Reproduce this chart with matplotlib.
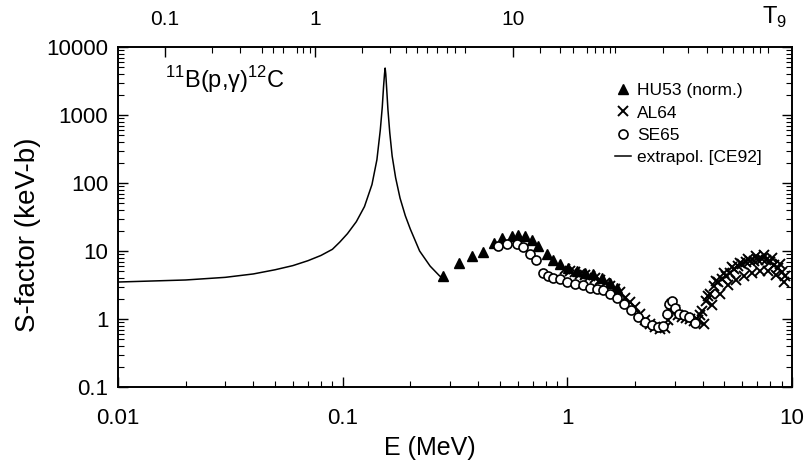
import matplotlib
matplotlib.use("Agg")
import matplotlib.pyplot as plt
from matplotlib.ticker import LogLocator, NullFormatter, FixedLocator

plt.rcParams['font.family'] = ['Liberation Sans', 'DejaVu Sans']
plt.rcParams['mathtext.fontset'] = 'custom'
plt.rcParams['mathtext.rm'] = 'Liberation Sans'

# extrapolated S-factor (CE92)
curve_E = [0.01, 0.02, 0.03, 0.04, 0.05, 0.06, 0.07, 0.08, 0.09, 0.097, 0.105, 0.115,
           0.125, 0.135, 0.142, 0.147, 0.15, 0.152, 0.1535, 0.1545, 0.1555, 0.157,
           0.159, 0.162, 0.166, 0.172, 0.18, 0.19, 0.2, 0.22, 0.245, 0.27, 0.28]
curve_S = [3.5, 3.75, 4.1, 4.6, 5.3, 6.1, 7.2, 8.6, 10.6, 13.5, 18, 27,
           45, 95, 220, 600, 1300, 2600, 4000, 4900, 4000, 2400,
           1200, 550, 250, 120, 60, 33, 21, 10, 6, 4.3, 4.0]

# HU53 (norm.)
hu53_E = [0.2795, 0.3293, 0.3763, 0.4211, 0.4713, 0.5117, 0.5669, 0.6028, 0.6477,
          0.6958, 0.7400, 0.8114, 0.8628, 0.9272, 1.006, 1.103, 1.198, 1.300,
          1.426, 1.547, 1.662]
hu53_S = [4.24, 6.60, 8.38, 9.60, 13.05, 15.47, 16.56, 17.13, 16.56,
          14.45, 11.78, 8.97, 7.31, 6.38, 5.57, 5.03, 4.69, 4.54,
          3.96, 3.34, 2.82]

# AL64 (dense band, middle then upper and lower edge of the band)
al64_E = [0.9757, 1.027, 1.081, 1.138, 1.198, 1.260, 1.327, 1.397, 1.470, 1.547,
          1.628, 1.714, 1.804, 1.899, 1.999, 2.104, 2.215, 2.331, 2.454, 2.583,
          2.719, 2.804, 2.862, 2.921, 3.013, 3.106, 3.236, 3.372, 3.513, 3.660,
          3.813, 3.972, 4.139, 4.312, 4.493, 4.681, 4.875, 5.080, 5.292, 5.513,
          5.744, 5.984, 6.234, 6.495, 6.767, 7.050, 7.345, 7.655, 7.972, 8.308,
          8.654, 9.016, 9.299,
          3.892, 4.224, 4.586, 4.977, 5.402, 5.864, 6.363, 6.907, 7.497, 8.137, 8.834,
          4.054, 4.401, 4.777, 5.184, 5.629, 6.107, 6.630, 7.197, 7.810, 8.480, 9.203]
al64_S = [5.38, 5.03, 4.86, 4.54, 4.39, 4.24, 3.96, 3.70, 3.34, 3.01,
          2.72, 2.46, 2.07, 1.75, 1.48, 1.20, 0.98, 0.855, 0.772, 0.721,
          0.746, 0.98, 1.38, 1.69, 1.38, 1.16, 1.085, 1.049, 1.014, 0.947,
          0.98, 1.33, 1.81, 2.37, 3.01, 3.46, 3.83, 4.24, 4.69, 5.38,
          5.96, 6.38, 6.83, 7.06, 7.06, 7.31, 7.56, 7.31, 6.83, 6.17,
          5.57, 4.86, 4.24,
          1.16, 2.145, 3.58, 4.69, 5.76, 6.60, 7.56, 8.38, 8.66, 7.82, 6.38,
          0.855, 1.634, 2.37, 3.12, 3.70, 4.24, 4.69, 5.03, 5.03, 4.39, 3.46]

# SE65
se65_E = [0.4911, 0.5385, 0.5966, 0.6345, 0.6819, 0.7250, 0.7788, 0.8198, 0.8628,
          0.9272, 0.9959, 1.081, 1.173, 1.260, 1.354, 1.440, 1.547, 1.662, 1.786,
          1.919, 2.062, 2.215, 2.380, 2.530, 2.665, 2.776, 2.833, 2.921, 3.013,
          3.138, 3.303, 3.477, 3.698]
se65_S = [11.78, 12.60, 12.60, 11.38, 8.97, 7.31, 4.69, 4.24, 3.96,
          3.83, 3.46, 3.23, 3.12, 2.82, 2.72, 2.63, 2.37, 2.07, 1.69,
          1.38, 1.085, 0.915, 0.827, 0.772, 0.799, 1.20, 1.69, 1.81, 1.43,
          1.20, 1.16, 1.085, 0.885]

# top T9 scale: labels and the E where they sit
t9_labels = ['0.1', '1', '10']
t9_major_E = [0.01618, 0.0753, 0.5727]
t9_minor_E = [0.0262, 0.03491, 0.04373, 0.04895, 0.05424, 0.06261, 0.06659, 0.07154,
              0.1219, 0.1624, 0.1913, 0.2141, 0.2372, 0.2628, 0.2912, 0.3161, 0.3503,
              0.7552, 0.9272, 1.059, 1.222, 1.327, 1.440, 1.547, 1.628,
              2.665, 3.441, 4.181, 4.875, 5.458, 6.047, 6.699, 7.197, 7.810]

fig = plt.figure(figsize=(8.09, 4.65), dpi=100)
ax = fig.add_axes([0.1459, 0.1677, 0.8331, 0.7312])

ax.plot(curve_E, curve_S, color='black', lw=1.1, label='extrapol. [CE92]')
ax.plot(hu53_E, hu53_S, ls='none', marker='^', ms=7, color='black', label='HU53 (norm.)')
ax.plot(al64_E, al64_S, ls='none', marker='x', ms=7.5, mew=1.4, color='black', label='AL64')
ax.plot(se65_E, se65_S, ls='none', marker='o', ms=6.5, mfc='white', mec='black',
        mew=1.2, label='SE65')

ax.set_xscale('log')
ax.set_yscale('log')
ax.set_xlim(0.01, 10)
ax.set_ylim(0.1, 10000)
ax.set_xticks([0.01, 0.1, 1, 10])
ax.set_xticklabels(['0.01', '0.1', '1', '10'])
ax.set_yticks([0.1, 1, 10, 100, 1000, 10000])
ax.set_yticklabels(['0.1', '1', '10', '100', '1000', '10000'])
ax.xaxis.set_minor_locator(LogLocator(base=10, subs=range(2, 10)))
ax.yaxis.set_minor_locator(LogLocator(base=10, subs=range(2, 10)))
ax.xaxis.set_minor_formatter(NullFormatter())
ax.yaxis.set_minor_formatter(NullFormatter())
ax.tick_params(which='both', direction='in', labelsize=16, right=True, top=False)
ax.tick_params(which='major', length=7, width=1)
ax.tick_params(which='minor', length=4, width=0.8)
ax.tick_params(axis='x', pad=15)
ax.tick_params(axis='y', pad=7)

ax.set_xlabel('E (MeV)', fontsize=18)
ax.set_ylabel('S-factor (keV-b)', fontsize=20)
ax.xaxis.set_label_coords(0.463, -0.145)
ax.yaxis.set_label_coords(-0.115, 0.447)

ax2 = ax.twiny()
ax2.set_xscale('log')
ax2.set_xlim(ax.get_xlim())
ax2.xaxis.set_major_locator(FixedLocator(t9_major_E))
ax2.set_xticklabels(t9_labels)
ax2.xaxis.set_minor_locator(FixedLocator(t9_minor_E))
ax2.xaxis.set_minor_formatter(NullFormatter())
ax2.tick_params(which='both', direction='in', labelsize=15, pad=13)
ax2.tick_params(which='major', length=7, width=1)
ax2.tick_params(which='minor', length=4, width=0.8)
ax2.text(0.993, 1.05, r'T$_9$', transform=ax.transAxes, fontsize=17,
         ha='right', va='bottom')

for a in (ax, ax2):
    for s in a.spines.values():
        s.set_linewidth(1.2)

ax.text(0.07, 0.95, '$^{11}$B(p,γ)$^{12}$C', transform=ax.transAxes,
        fontsize=17, ha='left', va='top')

h, l = ax.get_legend_handles_labels()
order = [1, 2, 3, 0]
ax.legend([h[i] for i in order], [l[i] for i in order], loc='upper left',
          bbox_to_anchor=(0.72, 0.93), frameon=False, fontsize=12.5,
          handlelength=0.9, handletextpad=0.35, labelspacing=0.42,
          borderpad=0.2)

fig.savefig('out.png', dpi=100)
